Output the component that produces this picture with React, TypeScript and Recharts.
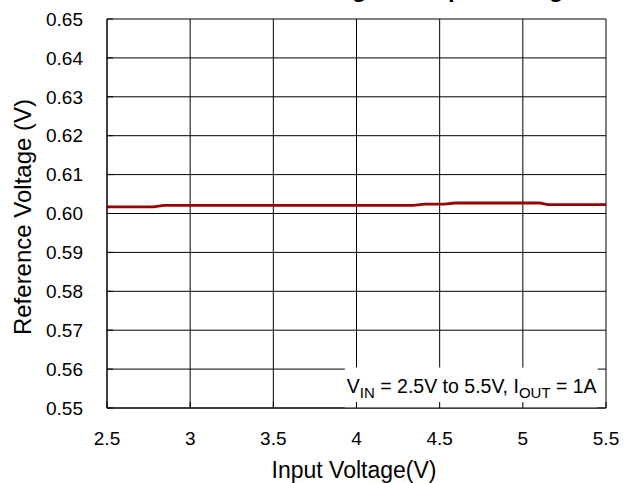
import React from "react";
import {
  LineChart,
  Line,
  XAxis,
  YAxis,
  CartesianGrid,
  ReferenceArea,
} from "recharts";

// input voltage (V) and measured reference voltage (V)
const inputVoltage = [2.5, 2.78, 2.84, 3.5, 4.34, 4.41, 4.53, 4.59, 5.1, 5.15, 5.5];
const refVoltage = [0.6017, 0.6017, 0.6021, 0.6021, 0.6021, 0.6024, 0.6024, 0.6027, 0.6027, 0.6023, 0.6023];

const xTicks = [2.5, 3, 3.5, 4, 4.5, 5, 5.5];
const yTicks = [0.55, 0.56, 0.57, 0.58, 0.59, 0.6, 0.61, 0.62, 0.63, 0.64, 0.65];

// condition note box (data units)
const noteX = [3.93, 5.45];
const noteY = [0.55, 0.5604];

const data = inputVoltage.map((v, i) => ({ vin: v, vref: refVoltage[i] }));

const FONT = "'Liberation Sans', Arial, sans-serif";

function NoteText(props: any) {
  const { viewBox } = props;
  const x = viewBox.x + 2;
  const y = viewBox.y + viewBox.height - 15;
  return (
    <text x={x} y={y} fontFamily={FONT} fontSize={19.5} fill="#000">
      V<tspan fontSize={15} dy={5}>IN</tspan>
      <tspan dy={-5}> = 2.5V to 5.5V, I</tspan>
      <tspan fontSize={15} dy={5}>OUT</tspan>
      <tspan dy={-5}> = 1A</tspan>
    </text>
  );
}

function YTitle() {
  return (
    <text
      x={0}
      y={0}
      transform="translate(31, 217) rotate(-90)"
      textAnchor="middle"
      fontFamily={FONT}
      fontSize={24}
      fill="#000"
    >
      Reference Voltage (V)
    </text>
  );
}

function XTitle() {
  return (
    <text x={354} y={478} textAnchor="middle" fontFamily={FONT} fontSize={23} fill="#000">
      Input Voltage(V)
    </text>
  );
}

export default function App() {
  return (
    <div style={{ position: "absolute", left: 0, top: 0, width: 625, height: 483, background: "#fff" }}>
      <div
        style={{
          position: "absolute",
          right: 48,
          top: -23,
          fontFamily: FONT,
          fontWeight: "bold",
          fontSize: 24,
          lineHeight: "24px",
          whiteSpace: "nowrap",
        }}
      >
        Reference Voltage vs. Input Voltage
      </div>
      <LineChart
        width={625}
        height={483}
        data={data}
        margin={{ top: 19, right: 19, bottom: 0, left: 0 }}
      >
        <CartesianGrid stroke="#000" strokeWidth={1} />
        <ReferenceArea
          x1={noteX[0]}
          x2={noteX[1]}
          y1={noteY[0]}
          y2={noteY[1]}
          fill="#fff"
          fillOpacity={1}
          stroke="none"
          label={<NoteText />}
        />
        <XAxis
          dataKey="vin"
          type="number"
          domain={[2.5, 5.5]}
          ticks={xTicks}
          height={75}
          stroke="#000"
          tickSize={-6}
          tickMargin={30}
          tick={{ fill: "#000", fontSize: 19, fontFamily: FONT }}
          label={<XTitle />}
        />
        <YAxis
          type="number"
          domain={[0.55, 0.65]}
          ticks={yTicks}
          width={107}
          stroke="#000"
          tickSize={-6}
          tickMargin={30}
          tickFormatter={(v: number) => v.toFixed(2)}
          tick={{ fill: "#000", fontSize: 19, fontFamily: FONT }}
          label={<YTitle />}
        />
        <Line
          dataKey="vref"
          type="linear"
          stroke="#990000"
          strokeWidth={2.8}
          dot={false}
          isAnimationActive={false}
        />
      </LineChart>
    </div>
  );
}
